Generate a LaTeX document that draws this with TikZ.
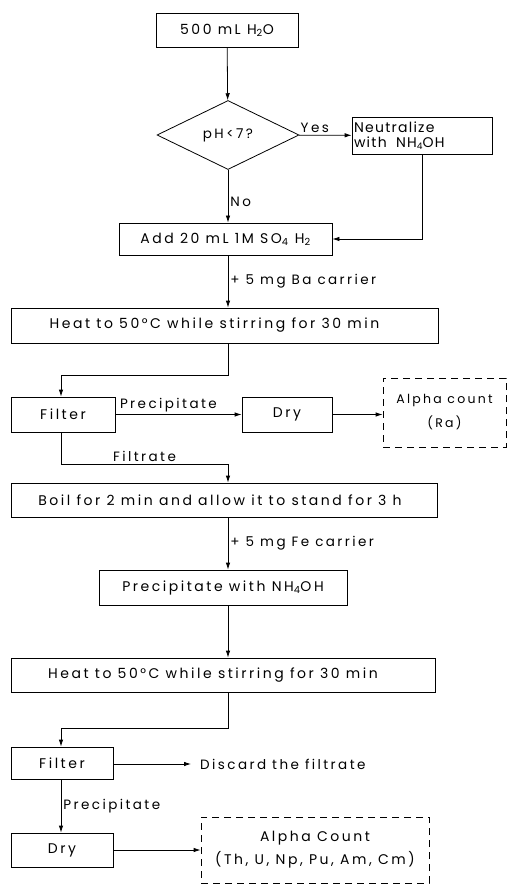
\documentclass[tikz,border=0pt]{standalone}
\usepackage{fontspec}
\setmainfont{Poppins}[LetterSpace=18]
\usepackage{tikz}
\usetikzlibrary{arrows.meta, positioning, shapes.geometric}

\begin{document}
\begin{tikzpicture}[x=1pt, y=-1pt,
  box/.style={draw, line width=0.8pt, inner sep=0pt, minimum height=34, font=\fontsize{14}{16}\selectfont},
  dbox/.style={box, dash pattern=on 7pt off 5pt, align=center, font=\fontsize{14}{23}\selectfont},
  decide/.style={draw, line width=0.8pt, diamond, aspect=2.06, minimum width=142, minimum height=69,
                 inner sep=0pt, font=\fontsize{13.5}{15}\selectfont},
  lbl/.style={font=\fontsize{13.5}{15}\selectfont, inner sep=2pt},
  arr/.style={-{Latex[length=7pt, width=4.5pt]}, line width=0.8pt}
]
  \useasboundingbox (0,0) rectangle (507,885);

  % boxes
  \node[box, minimum width=142] (h2o) at (227,30) {500 mL H\textsubscript{2}O};
  \node[decide] (ph) at (228,135) {pH<7?};
  \node[box, minimum width=140, minimum height=37, text width=136, align=left,
        font=\fontsize{14}{15.5}\selectfont\addfontfeature{LetterSpace=9}] (neut) at (422,135.5)
        {Neutralize\\with \ NH\raisebox{-1.5pt}{\small 4}OH};
  \node[box, minimum width=213, minimum height=32] (add) at (225.5,239) {Add 20 mL 1M SO\textsubscript{4} H\textsubscript{2}};
  \node[box, minimum width=427, minimum height=35] (heat1) at (224.5,325.5) {Heat to 50°C while stirring for 30 min\hspace*{20pt}};
  \node[box, minimum width=104, minimum height=35] (filt1) at (63,414.5) {Filter};
  \node[box, minimum width=90, minimum height=35] (dry1) at (287,414.5) {Dry};
  \node[dbox, minimum width=123, minimum height=69, font=\fontsize{12.5}{24}\selectfont] (alpha1) at (444.5,412.5) {Alpha count\\(Ra)};
  \node[box, minimum width=426] (boil) at (224,500) {Boil for 2 min and allow it to stand for 3 h\hspace*{8pt}};
  \node[box, minimum width=248, minimum height=35] (prec) at (223,587.5) {Precipitate with NH\textsubscript{4}OH};
  \node[box, minimum width=424] (heat2) at (223,675) {Heat to 50°C while stirring for 30 min\hspace*{20pt}};
  \node[box, minimum width=102, minimum height=32] (filt2) at (62,763) {Filter};
  \node[lbl, anchor=west, inner sep=0pt] (discard) at (200,764) {Discard the filtrate};
  \node[box, minimum width=102] (dry2) at (62,850) {Dry};
  \node[dbox, minimum width=228, minimum height=66] (alpha2) at (315,850) {Alpha Count\\(Th, U, Np, Pu, Am, Cm)};

  % connectors
  \draw[arr] (h2o) -- (ph);
  \draw[arr] (ph) -- node[lbl, above, pos=0.3] {Yes} (neut);
  \draw[arr] (ph) -- node[lbl, right, pos=0.6] {No} (add.north -| ph);
  \draw[arr] (neut.south) |- (add.east);
  \draw[arr] (add.south -| ph) -- node[lbl, right] {+ 5 mg Ba carrier} (heat1.north -| ph);
  \draw[arr] (heat1.south -| ph) -- ++(0,32) -| (filt1.north -| 61,0);
  \draw[arr] (filt1) -- node[lbl, above, pos=0.42] {Precipitate} (dry1);
  \draw[arr] (dry1.east) -- (dry1.east -| alpha1.west);
  \draw[arr] (filt1.south -| 61,0) -- ++(0,32) -| node[lbl, above, pos=0.25] {Filtrate} (boil.north -| ph);
  \draw[arr] (boil.south -| ph) -- node[lbl, right] {+ 5 mg Fe carrier} (prec.north -| ph);
  \draw[arr] (prec.south -| ph) -- (heat2.north -| ph);
  \draw[arr] (heat2.south -| ph) -- ++(0,36) -| (filt2.north -| 61,0);
  \draw[arr, shorten >=9pt] (filt2.east |- discard) -- (discard.west);
  \draw[arr] (filt2.south -| 61,0) -- node[lbl, right] {Precipitate} (dry2.north -| 61,0);
  \draw[arr] (dry2) -- (alpha2);
\end{tikzpicture}
\end{document}
